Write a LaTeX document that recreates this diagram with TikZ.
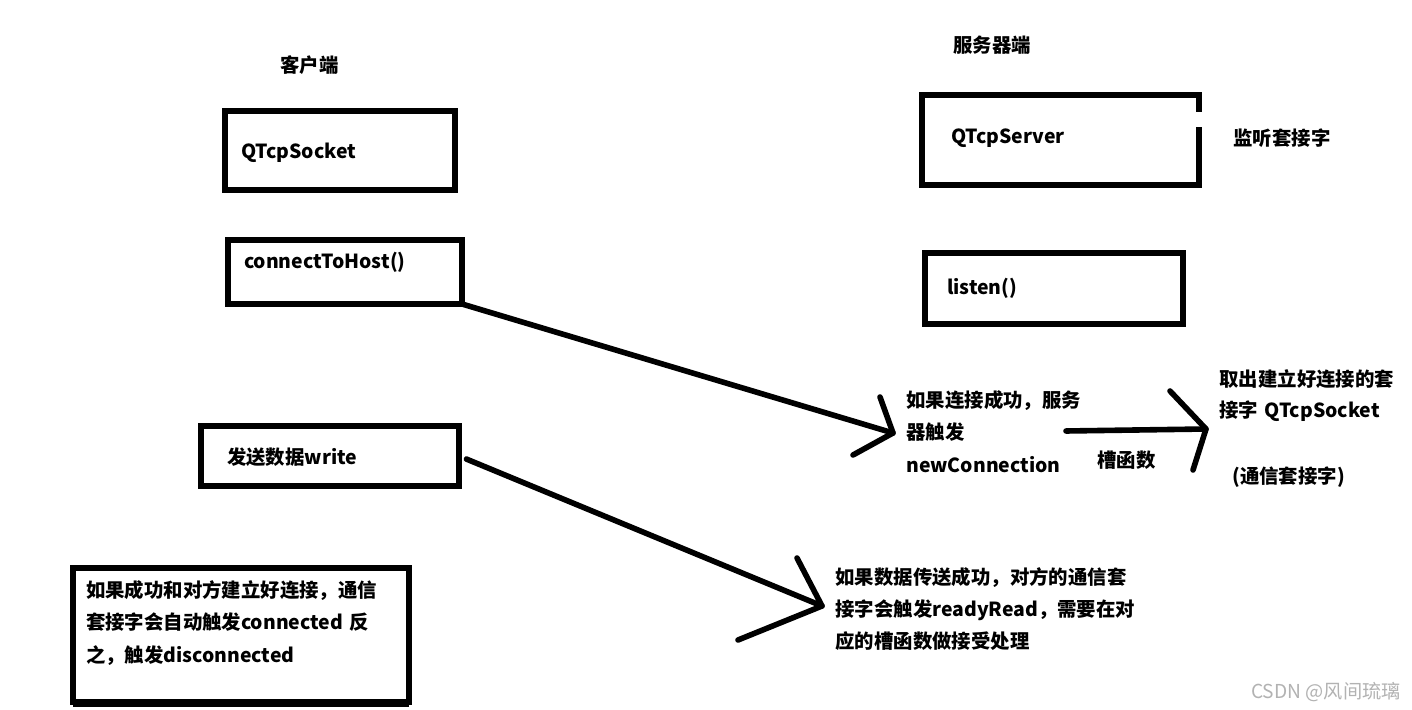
\documentclass[tikz,border=0pt]{standalone}
\usepackage{fontspec}
\setmainfont{Noto Sans CJK SC}
\usetikzlibrary{positioning}

\begin{document}
\begin{tikzpicture}[x=0.5pt, y=-0.5pt,
  every node/.style = {font=\fontsize{9.7}{16.25}\selectfont\bfseries},
  sockbox/.style = {draw, line width=3pt, anchor=north west, outer sep=0pt,
    inner ysep=0pt, align=left},
  txt/.style = {anchor=base west, inner sep=0pt, align=left},
  stroke/.style = {line width=2.8pt, line cap=round, line join=round}]
  \path[fill=white, use as bounding box] (0,0) rectangle (1412,710);

  % client side
  \node[txt] (client) at (280,72.4) {客户端};
  \node[sockbox, text width=99pt, inner xsep=8pt, text height=23.7pt, text depth=15.8pt]
    (sock) at (225,111) {QTcpSocket};
  \node[sockbox, text width=101pt, inner xsep=8pt, text height=14.5pt, text depth=17.5pt]
    (conn) at (228,240) {connectToHost()};
  \node[sockbox, text width=103pt, inner xsep=13pt, text height=19.2pt, text depth=10.8pt]
    (wr) at (201,426) {发送数据write};
  \node[sockbox, text width=155pt, inner xsep=6.5pt, text height=14.7pt, text depth=52.3pt]
    (note) at (73,568) {如果成功和对方建立好连接，通信\\套接字会自动触发connected 反\\之，触发disconnected};
  \draw[line width=4pt] ([yshift=-0.5pt]note.south west) -- ([yshift=-0.5pt]note.south east);

  % server side
  \node[txt] (server) at (953,52.4) {服务器端};
  \node[sockbox, draw=none, text width=109.5pt, inner xsep=14.5pt, text height=24.5pt, text depth=20.5pt]
    (srv) at (922,95) {QTcpServer};
  \draw[line width=3pt] ([yshift=-8.5pt]srv.north east) -- (srv.north east) -- (srv.north west)
    -- (srv.south west) -- (srv.south east) -- ([yshift=-16pt]srv.north east);
  \node[txt] (lislbl) at (1233,145.4) {监听套接字};
  \node[sockbox, text width=107pt, inner xsep=11pt, text height=21pt, text depth=14.5pt]
    (lis) at (925,253) {listen()};

  \node[txt, text width=100pt, font=\fontsize{9.7}{16.25}\selectfont\bfseries]
    (conntxt) at (906,407.4) {如果连接成功，服务\\器触发\\newConnection};
  \node[txt] (slot) at (1097,467.5) {槽函数};
  \node[txt, text width=95pt, font=\fontsize{9.7}{15.5}\selectfont\bfseries]
    (fetch) at (1219,386.4) {取出建立好连接的套\\接字 QTcpSocket};
  \node[txt] (comm) at (1232,483.4) {(通信套接字)};
  \node[txt, text width=160pt, font=\fontsize{9.7}{16}\selectfont\bfseries]
    (readtxt) at (835,584.4) {如果数据传送成功，对方的通信套\\接字会触发readyRead，需要在对\\应的槽函数做接受处理};

  \node[anchor=base east, inner sep=0pt, text=gray!60, font=\fontsize{9.6}{11}\selectfont]
    (mark) at (1401,698) {CSDN @风间琉璃};

  % connectors
  \coordinate (tipA) at (893,433);
  \coordinate (fromB) at (1066,431);
  \coordinate (tipB) at (1206,429);
  \coordinate (tipC) at (822,606);

  \draw[stroke] (conn.south east) -- (tipA);
  \draw[stroke] (tipA) ++(-13,-36) -- (tipA) -- ++(-40,22);
  \draw[stroke] (fromB) -- (tipB);
  \draw[stroke] (tipB) ++(-36,-38) -- (tipB) -- ++(-13,41);
  \draw[stroke, shorten <=4pt] (wr.east) -- (tipC);
  \draw[stroke] (tipC) ++(-25,-48) -- (tipC) -- ++(-84,34);
\end{tikzpicture}
\end{document}
